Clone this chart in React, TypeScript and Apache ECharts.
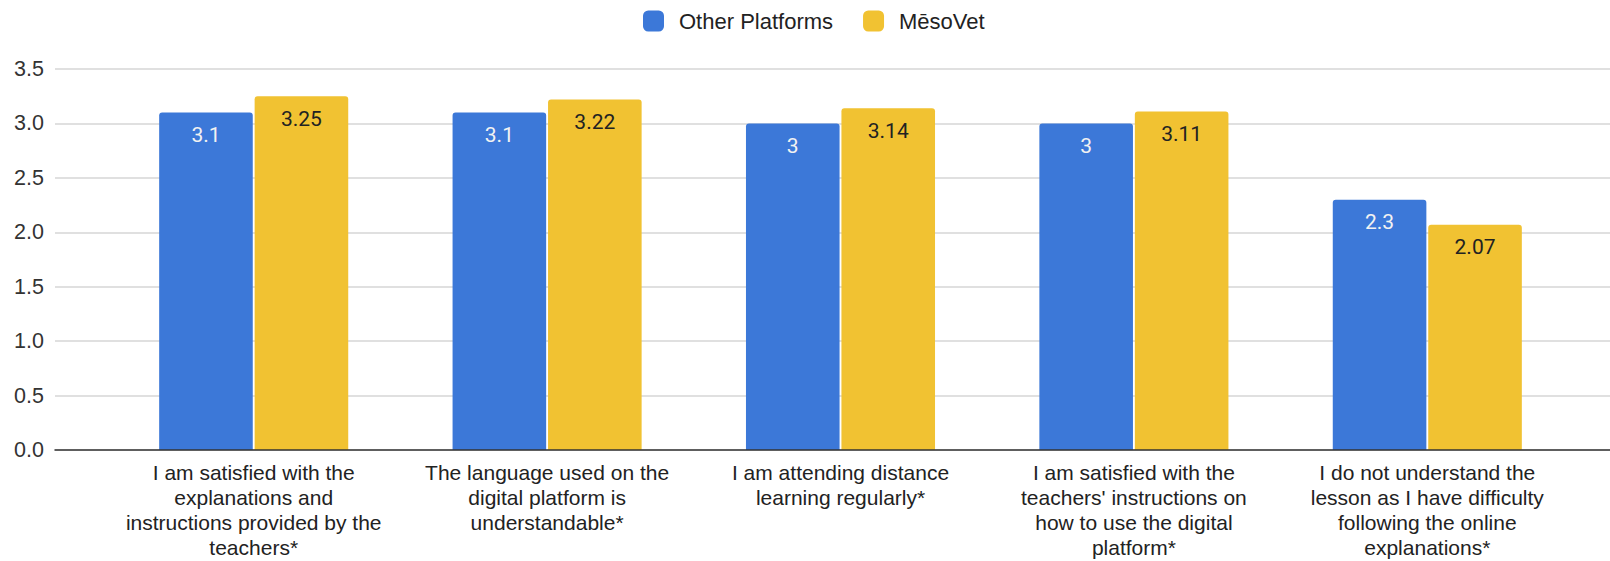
import React, { useEffect, useRef } from "react";
import * as echarts from "echarts";

const categories = [
  "I am satisfied with the\nexplanations and\ninstructions provided by the\nteachers*",
  "The language used on the\ndigital platform is\nunderstandable*",
  "I am attending distance\nlearning regularly*",
  "I am satisfied with the\nteachers' instructions on\nhow to use the digital\nplatform*",
  "I do not understand the\nlesson as I have difficulty\nfollowing the online\nexplanations*",
];
const otherPlatforms = [3.1, 3.1, 3, 3, 2.3];
const mesoVet = [3.25, 3.22, 3.14, 3.11, 2.07];
const seriesNames = ["Other Platforms", "MēsoVet"];
const yMin = 0;
const yMax = 3.5;
const yInterval = 0.5;

const FONT = "'Liberation Sans', Arial, sans-serif";

export default function App() {
  const ref = useRef<HTMLDivElement>(null);
  useEffect(() => {
    document.body.style.margin = "0";
    if (!ref.current) return;
    const chart = echarts.init(ref.current, undefined, { renderer: "svg" });
    chart.setOption({
      animation: false,
      backgroundColor: "#ffffff",
      legend: {
        top: 5,
        left: 638,
        itemWidth: 21,
        itemHeight: 21,
        itemGap: 30,
        icon: "roundRect",
        textStyle: {
          fontFamily: FONT,
          fontSize: 22,
          color: "#222222",
          padding: [0, 0, 0, 10],
        },
        data: seriesNames,
      },
      grid: [
        { left: 55, right: 0, top: 69, bottom: 111 },
        { left: 107, right: 36, top: 69, bottom: 111 },
      ],
      xAxis: [
        {
          type: "value",
          gridIndex: 0,
          min: 0,
          max: 1,
          z: 5,
          axisLine: { show: true, lineStyle: { color: "#333333", width: 1.5 } },
          axisTick: { show: false },
          axisLabel: { show: false },
          splitLine: { show: false },
        },
        {
          type: "category",
          gridIndex: 1,
          data: categories,
          axisLine: { show: false },
          axisTick: { show: false },
          axisLabel: {
            interval: 0,
            margin: 10,
            fontFamily: FONT,
            fontSize: 21,
            lineHeight: 25,
            color: "#222222",
            align: "center",
          },
        },
      ],
      yAxis: [
        {
          type: "value",
          gridIndex: 0,
          min: yMin,
          max: yMax,
          interval: yInterval,
          axisLine: { show: false },
          axisTick: { show: false },
          axisLabel: {
            margin: 11,
            fontFamily: FONT,
            fontSize: 21.5,
            color: "#333333",
            formatter: (v: number) => v.toFixed(1),
          },
          splitLine: { lineStyle: { color: "#d6d6d6", width: 1.5 } },
        },
        {
          type: "value",
          gridIndex: 1,
          min: yMin,
          max: yMax,
          interval: yInterval,
          show: false,
          splitLine: { show: false },
        },
      ],
      series: [
        {
          name: seriesNames[0],
          type: "bar",
          xAxisIndex: 1,
          yAxisIndex: 1,
          data: otherPlatforms,
          barWidth: "31.9%",
          barGap: "2%",
          itemStyle: { color: "#3c78d8", borderRadius: [3, 3, 0, 0] },
          label: {
            show: true,
            position: "insideTop",
            distance: 12,
            fontFamily: "Roboto, sans-serif",
            fontSize: 21,
            color: "#f2f2f2",
          },
        },
        {
          name: seriesNames[1],
          type: "bar",
          xAxisIndex: 1,
          yAxisIndex: 1,
          data: mesoVet,
          barWidth: "31.9%",
          barGap: "2%",
          itemStyle: { color: "#f1c232", borderRadius: [3, 3, 0, 0] },
          label: {
            show: true,
            position: "insideTop",
            distance: 12,
            fontFamily: "Roboto, sans-serif",
            fontSize: 21,
            color: "#222222",
          },
        },
      ],
    });
    return () => chart.dispose();
  }, []);
  return <div ref={ref} style={{ width: 1610, height: 561 }} />;
}
